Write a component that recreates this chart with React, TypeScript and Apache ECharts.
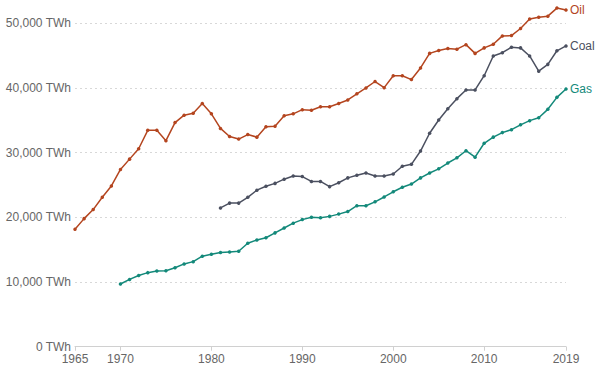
import React, { useEffect, useRef } from "react";
import * as echarts from "echarts";

const oilStart = 1965;
const oilValues = [
  18150, 19800, 21200, 23100, 24850, 27400, 29000, 30600, 33450, 33450,
  31850, 34650, 35800, 36100, 37600, 36000, 33750, 32500, 32100, 32800,
  32400, 34000, 34100, 35700, 36000, 36650, 36550, 37100, 37100, 37600,
  38150, 39100, 40000, 41000, 40050, 41900, 41900, 41300, 43100, 45350,
  45800, 46100, 46000, 46700, 45350, 46200, 46750, 48050, 48100, 49200,
  50650, 50950, 51100, 52350, 52050,
];

const coalStart = 1981;
const coalValues = [
  21450, 22200, 22200, 23100, 24200, 24800, 25250, 25900, 26400, 26300,
  25550, 25550, 24750, 25350, 26100, 26500, 26850, 26400, 26400, 26700,
  27900, 28200, 30250, 33000, 35050, 36800, 38350, 39700, 39700, 41900,
  44950, 45450, 46300, 46200, 44950, 42600, 43650, 45750, 46500,
];

const gasStart = 1970;
const gasValues = [
  9700, 10400, 11000, 11450, 11700, 11750, 12200, 12800, 13150, 14000,
  14300, 14550, 14650, 14750, 16000, 16500, 16850, 17600, 18350, 19100,
  19650, 20000, 19950, 20150, 20500, 20900, 21800, 21800, 22400, 23150,
  23950, 24650, 25150, 26100, 26850, 27500, 28400, 29200, 30300, 29300,
  31450, 32400, 33100, 33550, 34300, 34950, 35400, 36700, 38550, 39850,
];

const xTickLabels = [1965, 1970, 1980, 1990, 2000, 2010, 2019];
const yTicks = [0, 10000, 20000, 30000, 40000, 50000];

const seriesNames = ["Oil", "Coal", "Gas"];
const seriesColors = ["#b4451f", "#4b5060", "#13897a"];

const toPairs = (start: number, vals: number[]) =>
  vals.map((v, i) => [start + i, v]);

export default function App() {
  const ref = useRef<HTMLDivElement>(null);
  useEffect(() => {
    if (!ref.current) return;
    const chart = echarts.init(ref.current, undefined, { renderer: "svg" });
    const datasets = [
      toPairs(oilStart, oilValues),
      toPairs(coalStart, coalValues),
      toPairs(gasStart, gasValues),
    ];
    chart.setOption({
      animation: false,
      textStyle: { fontFamily: "Liberation Sans, Arial, sans-serif" },
      grid: { left: 75, right: 43, top: 23.3, bottom: 21.3 },
      xAxis: {
        type: "value",
        min: 1965,
        max: 2019,
        axisLine: { show: true, lineStyle: { color: "#d0d0d0", width: 1 } },
        axisTick: {
          show: true,
          customValues: xTickLabels,
          length: 4,
          lineStyle: { color: "#d0d0d0" },
        },
        axisLabel: {
          customValues: xTickLabels,
          color: "#666",
          fontSize: 12,
          margin: 6,
          formatter: (v: number) => String(v),
        },
        splitLine: { show: false },
      },
      yAxis: {
        type: "value",
        min: 0,
        max: 50000,
        interval: 10000,
        axisLine: { show: false },
        axisTick: { show: false },
        axisLabel: {
          color: "#666",
          fontSize: 12,
          margin: 4,
          customValues: yTicks,
          formatter: (v: number) => v.toLocaleString("en-US") + " TWh",
        },
        splitLine: {
          show: true,
          lineStyle: { color: "#d8d8d8", type: [2, 3], width: 1 },
        },
      },
      series: seriesNames.map((name, i) => ({
        name,
        type: "line",
        data: datasets[i],
        clip: false,
        symbol: "circle",
        symbolSize: 3.5,
        showSymbol: true,
        color: seriesColors[i],
        lineStyle: { width: 1.5, color: seriesColors[i] },
        itemStyle: { color: seriesColors[i] },
        endLabel: {
          show: true,
          formatter: name,
          color: seriesColors[i],
          fontSize: 12,
          distance: 4,
        },
      })),
    });
    return () => chart.dispose();
  }, []);
  return <div ref={ref} style={{ width: 609, height: 368, position: "absolute", left: 0, top: 0 }} />;
}
